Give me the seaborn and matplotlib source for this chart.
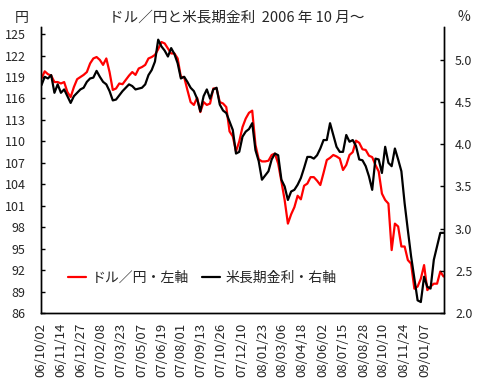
import matplotlib
matplotlib.use("Agg")
import matplotlib.pyplot as plt
import seaborn as sns
import pandas as pd

# ---- data (weekly readings from the reference) ----
start_date = "2006-10-03"
n_weeks = 125

usdjpy = [
    118.8, 119.8, 119.4, 119.2, 118.3, 118.3, 118.1, 118.3, 116.9, 116.2, 117.6,
    118.7, 119.0, 119.3, 119.7, 120.9, 121.6, 121.8, 121.4, 120.7, 121.6, 119.7,
    117.2, 117.4, 118.1, 118.0, 118.6, 119.2, 119.7, 119.3, 120.2,
    120.4, 120.7, 121.6, 121.8, 122.1, 122.9, 123.9, 123.7, 123.0, 122.3, 122.3,
    121.6, 119.0, 119.0, 117.2, 115.5, 115.1, 116.1, 114.1, 115.5, 115.1, 115.3,
    117.4, 117.4, 115.5, 115.3, 114.8, 111.4, 110.7, 108.6, 110.0,
    112.0, 113.2, 114.0, 114.3, 109.5, 107.5, 107.2, 107.2, 107.3, 108.1, 108.3,
    106.9, 104.4, 101.8, 98.5, 99.8, 100.8, 102.4, 101.9, 103.8, 104.1, 105.0,
    105.0, 104.5, 103.9, 105.6, 107.4, 107.7, 108.1, 107.9,
    107.6, 106.0, 106.7, 108.1, 108.5, 110.1, 109.8, 108.9, 108.8, 108.0, 107.8,
    106.7, 105.8, 102.7, 101.8, 101.3, 94.8, 98.5, 98.1, 95.3, 95.3, 93.4, 92.9,
    89.4, 89.7, 90.8, 92.7, 89.2, 89.7, 90.1, 90.1, 91.8, 91.1,
]

us_yield = [
    4.70, 4.80, 4.78, 4.82, 4.61, 4.71, 4.61, 4.65, 4.57, 4.49, 4.57, 4.61, 4.65,
    4.67, 4.74, 4.78, 4.79, 4.87, 4.80, 4.74, 4.71, 4.63, 4.52, 4.53, 4.58, 4.63,
    4.67, 4.71, 4.69, 4.65, 4.66,
    4.67, 4.71, 4.82, 4.88, 4.98, 5.24, 5.16, 5.11, 5.04, 5.14, 5.07, 4.96, 4.78,
    4.80, 4.74, 4.67, 4.63, 4.54, 4.39, 4.57, 4.65, 4.54, 4.65, 4.67, 4.47, 4.40,
    4.37, 4.27, 4.17, 3.89, 3.91,
    4.09, 4.15, 4.18, 4.25, 3.93, 3.80, 3.58, 3.63, 3.68, 3.82, 3.89, 3.87, 3.58,
    3.50, 3.34, 3.44, 3.46, 3.52, 3.60, 3.72, 3.85, 3.85, 3.83, 3.87, 3.95, 4.05,
    4.05, 4.25, 4.11, 3.97,
    3.91, 3.91, 4.11, 4.03, 4.05, 3.98, 3.82, 3.81, 3.74, 3.62, 3.46, 3.83, 3.82,
    3.66, 3.97, 3.78, 3.74, 3.95, 3.82, 3.68, 3.30, 2.98, 2.67, 2.41, 2.15, 2.13,
    2.43, 2.31, 2.29, 2.63, 2.79, 2.95, 2.95,
]

tick_labels = [
    "06/10/02", "06/11/14", "06/12/27", "07/02/08", "07/03/23", "07/05/07",
    "07/06/19", "07/08/01", "07/09/13", "07/10/26", "07/12/10", "08/01/23",
    "08/03/06", "08/04/18", "08/06/02", "08/07/15", "08/08/28", "08/10/10",
    "08/11/24", "09/01/07",
]
left_ticks = list(range(86, 126, 3))
right_ticks = [2.0, 2.5, 3.0, 3.5, 4.0, 4.5, 5.0]

title = "ドル／円と米長期金利  2006 年 10 月〜"
label_jpy = "ドル／円・左軸"
label_yld = "米長期金利・右軸"

# ---- build frame ----
dates = pd.date_range(start_date, periods=n_weeks, freq="7D")
df = pd.DataFrame({"date": dates, "usdjpy": usdjpy, "yield": us_yield})

sns.set_style("white")
plt.rcParams["font.family"] = ["Noto Sans CJK JP", "DejaVu Sans"]

fig = plt.figure(figsize=(4.78, 3.85), dpi=100)
ax = fig.add_axes([41 / 478, 1 - 313 / 385, 403 / 478, 286 / 385])
ax2 = ax.twinx()

sns.lineplot(data=df, x="date", y="usdjpy", ax=ax, color="#ff0000",
             linewidth=1.6, label=label_jpy, legend=False)
sns.lineplot(data=df, x="date", y="yield", ax=ax2, color="#000000",
             linewidth=1.6, label=label_yld, legend=False)

ax.set_xlim(pd.Timestamp("2006-10-02"), pd.Timestamp("2009-02-18"))
ax.set_ylim(86, 126)
ax2.set_ylim(2.0, 5.39)

tick_dates = pd.to_datetime(tick_labels, format="%y/%m/%d")
ax.set_xticks(tick_dates)
ax.set_xticklabels(tick_labels, rotation=90, fontsize=9.5)
ax.set_yticks(left_ticks)
ax.set_yticklabels([str(t) for t in left_ticks], fontsize=9)
ax2.set_yticks(right_ticks)
ax2.set_yticklabels([f"{t:.1f}" for t in right_ticks], fontsize=9)

ax.set_xlabel("")
ax.set_ylabel("")
ax2.set_ylabel("")

for a in (ax, ax2):
    a.spines["top"].set_visible(False)
    for s in ("left", "right", "bottom"):
        a.spines[s].set_color("black")
        a.spines[s].set_linewidth(1.0)
    a.grid(False)

ax.tick_params(axis="x", length=0, pad=7)
ax.tick_params(axis="y", direction="in", length=3, width=1, color="black",
               pad=11, left=True)
ax2.tick_params(axis="y", direction="in", length=3, width=1, color="black",
                pad=8, right=True)

fig.text(237 / 478, 1 - 18 / 385, title, ha="center", va="center", fontsize=10.5)
fig.text(21.5 / 478, 1 - 18 / 385, "円", ha="center", va="center", fontsize=10)
fig.text(464 / 478, 1 - 17 / 385, "%", ha="center", va="center", fontsize=10)

h1, l1 = ax.get_legend_handles_labels()
h2, l2 = ax2.get_legend_handles_labels()
ax2.legend(h1 + h2, l1 + l2, loc="center", bbox_to_anchor=(0.4, 0.122),
           ncol=2, frameon=False, fontsize=10, handlelength=1.3,
           handletextpad=0.4, columnspacing=0.9)

fig.savefig("out.png", dpi=100)
